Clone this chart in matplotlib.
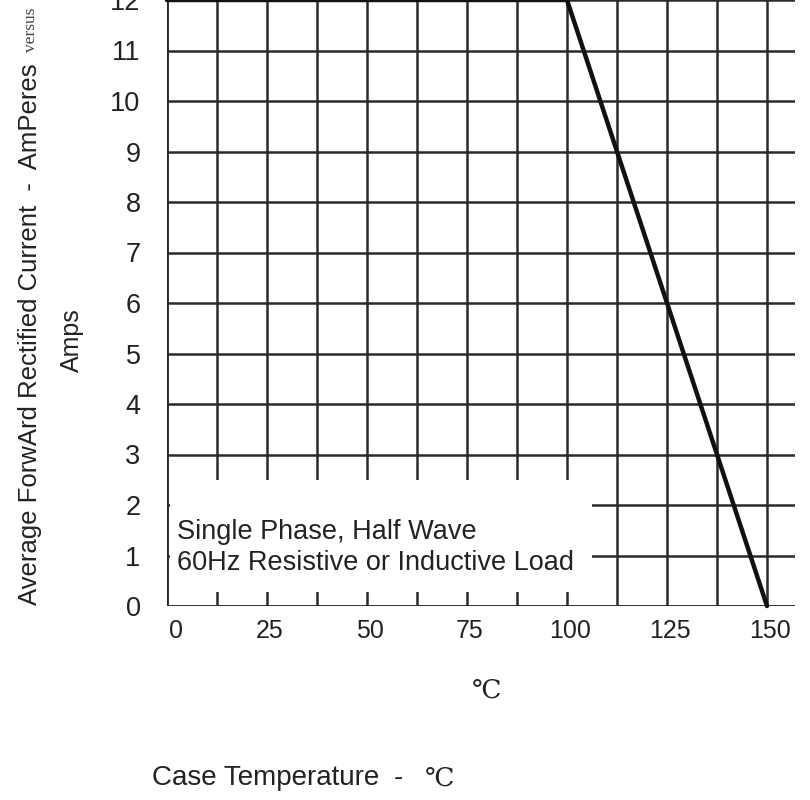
import matplotlib
matplotlib.use("Agg")
import matplotlib.pyplot as plt
from matplotlib.patches import Rectangle
import matplotlib.transforms as mtransforms

# Data
temps = [0, 100, 150]
current = [12, 12, 0]
x_ticks = [0, 25, 50, 75, 100, 125, 150]
x_grid = [12.5 * i for i in range(13)]
y_ticks = list(range(0, 13))
note_lines = ["Single Phase, Half Wave", "60Hz Resistive or Inductive Load"]

plt.rcParams['font.family'] = ['Liberation Sans', 'DejaVu Sans']

W, H = 810, 800
fig = plt.figure(figsize=(W / 100, H / 100), dpi=100)
left, right, bottom, top = 167, 795, 606, 0
ax = fig.add_axes([left / W, (H - bottom) / H, (right - left) / W, (bottom - top) / H])
ax.set_xlim(0, 157)
ax.set_ylim(0, 12.0)
for s in ax.spines.values():
    s.set_visible(False)

gc = '#2a2a2a'
tc = '#222222'
for y in y_ticks:
    ax.axhline(y, color=gc, lw=1.8, zorder=1)
for x in x_grid:
    ax.axvline(x, color=gc, lw=1.8, zorder=1)

# blank box for note
ax.add_patch(Rectangle((0.7, 0.27), 105.5, 2.23, facecolor='white', edgecolor='none', zorder=2))
ax.axvline(0, color=gc, lw=1.8, zorder=2.5)
ax.axhline(0, color=gc, lw=1.8, zorder=2.5)

ax.plot(temps, current, color='#111111', lw=3.2, zorder=4, clip_on=False, solid_capstyle='round')

ax.text(2.5, 1.47, note_lines[0], fontsize=19.5, color=tc, va='center', ha='left', zorder=5)
ax.text(2.5, 0.86, note_lines[1], fontsize=19.5, color=tc, va='center', ha='left', zorder=5)

ax.set_xticks(x_ticks)
ax.set_xticklabels([str(v) for v in x_ticks])
ax.set_yticks(y_ticks)
ax.set_yticklabels([str(v) for v in y_ticks])
ax.tick_params(axis='both', length=0, colors=tc)
ax.tick_params(axis='y', pad=19, labelsize=19.5)
ax.tick_params(axis='x', pad=9, labelsize=18)
labs = ax.get_xticklabels()
off0 = mtransforms.ScaledTranslation(9 / 100, 0, fig.dpi_scale_trans)
off = mtransforms.ScaledTranslation(3 / 100, 0, fig.dpi_scale_trans)
for i, lab in enumerate(labs):
    lab.set_transform(lab.get_transform() + (off0 if i == 0 else off))

# y label
fig.text(30 / W, 1 - 605 / H, "Average ForwArd Rectified Current  -  AmPeres", rotation=90,
         fontsize=18.5, color=tc, ha='center', va='bottom')
fig.text(31 / W, 1 - 8 / H, "versus", rotation=90, fontsize=12.5, family='Liberation Serif',
         color='#444444', ha='center', va='top')
fig.text(72 / W, 1 - 340 / H, "Amps", rotation=90, fontsize=18, color=tc,
         ha='center', va='center')

fig.text(487 / W, 1 - 690 / H, "℃", fontsize=19, family=['DejaVu Serif', 'DejaVu Sans'],
         color=tc, ha='center', va='center')
fig.text(152 / W, 1 - 778 / H, "Case Temperature", fontsize=20, color=tc,
         ha='left', va='center')
fig.text(398 / W, 1 - 778 / H, "-", fontsize=20, color=tc, ha='center', va='center')
fig.text(440 / W, 1 - 778 / H, "℃", fontsize=19, family=['DejaVu Serif', 'DejaVu Sans'],
         color=tc, ha='center', va='center')

# crop on the right like the reference
fig.patches.append(Rectangle((795 / W, 0), 15 / W, 1, transform=fig.transFigure,
                             facecolor='white', edgecolor='none', zorder=10))

fig.savefig("out.png", dpi=100)
